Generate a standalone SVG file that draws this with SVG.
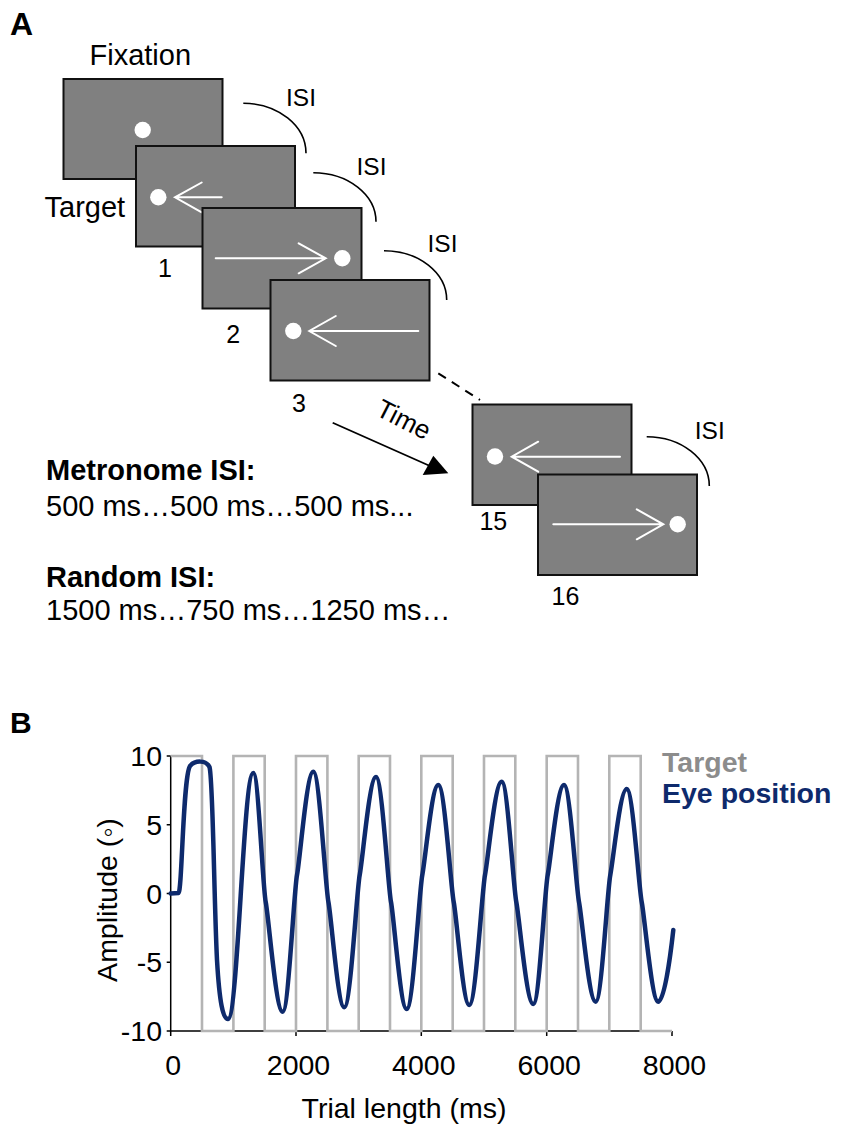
<svg xmlns="http://www.w3.org/2000/svg" width="851" height="1136" viewBox="0 0 851 1136">
<style>
.scr{fill:#808080;stroke:#111;stroke-width:2}
.dot{fill:#fff}
.arr{stroke:#fff;stroke-width:2;fill:none;stroke-linecap:round}
.isi{fill:none;stroke:#000;stroke-width:1.6}
text{font-family:"Liberation Sans",Arial,Helvetica,sans-serif;fill:#000}
.big{font-size:29px}
.num{font-size:25px;text-anchor:middle}
.isit{font-size:24.5px}
.bold{font-weight:bold}
.tick{font-size:28.5px}
</style>
<rect width="851" height="1136" fill="#fff"/>
<text x="10" y="35" class="bold" font-size="32">A</text>
<text x="10" y="733" class="bold" font-size="30">B</text>

<g id="screen1">
<rect class="scr" x="63.5" y="79" width="159" height="100"/>
<circle class="dot" cx="142.7" cy="130" r="8.2"/>
<text x="89.5" y="65" class="big">Fixation</text>
</g>
<g id="isi1">
<path class="isi" d="M243.3,103.3 A62.7,50 0 0 1 306,153.3"/>
<text x="286" y="106" class="isit">ISI</text>
</g>
<g id="screen2">
<rect class="scr" x="136" y="146" width="159" height="100.5"/>
<circle class="dot" cx="158.3" cy="197.3" r="8.2"/>
<path class="arr" d="M221.7,197.3 H175 M201.7,182.5 L175,197.3 L201.7,212.3"/>
<text x="44.5" y="216.7" class="big">Target</text>
<text x="165" y="277" class="num">1</text>
</g>
<g id="isi2">
<path class="isi" d="M313.3,172.7 A62.7,49 0 0 1 376,221.7"/>
<text x="356.5" y="175" class="isit">ISI</text>
</g>
<g id="screen3">
<rect class="scr" x="202.5" y="208" width="159" height="100.5"/>
<circle class="dot" cx="342.3" cy="258.3" r="8.2"/>
<path class="arr" d="M215.7,258.3 H325.7 M298.7,243.3 L325.7,258.3 L298.7,273.3"/>
<text x="233.3" y="343" class="num">2</text>
</g>
<g id="isi3">
<path class="isi" d="M384,250.7 A62.7,49.3 0 0 1 446.7,300"/>
<text x="427.5" y="251.7" class="isit">ISI</text>
</g>
<g id="screen4">
<rect class="scr" x="270.5" y="280" width="159" height="100.5"/>
<circle class="dot" cx="293.3" cy="331" r="8.2"/>
<path class="arr" d="M418.3,331 H309.3 M335.8,316 L309.3,331 L335.8,346"/>
<text x="299" y="411.7" class="num">3</text>
</g>

<g id="connectors">
<line x1="438.3" y1="373.3" x2="480" y2="400" stroke="#000" stroke-width="2" stroke-dasharray="9,7"/>
<line x1="332.7" y1="422.7" x2="430" y2="466" stroke="#000" stroke-width="1.8"/>
<polygon points="448.3,473.2 422.7,475 433.3,455.8" fill="#000"/>
<text transform="translate(374.5,414.5) rotate(27)" font-size="26">Time</text>
</g>

<g id="screen15">
<rect class="scr" x="472.5" y="404.5" width="159" height="100.5"/>
<circle class="dot" cx="495" cy="456.5" r="8.2"/>
<path class="arr" d="M620,456.7 H511.7 M538.2,441.7 L511.7,456.7 L538.2,471.7"/>
<text x="493.3" y="529.5" class="num">15</text>
</g>
<g id="isi4">
<path class="isi" d="M646.7,436.7 A62.7,49.3 0 0 1 709.3,486"/>
<text x="694.8" y="439" class="isit">ISI</text>
</g>
<g id="screen16">
<rect class="scr" x="538" y="474.5" width="159" height="100.5"/>
<circle class="dot" cx="677.7" cy="524.3" r="8.2"/>
<path class="arr" d="M553.3,524.3 H663.3 M636.8,509.3 L663.3,524.3 L636.8,539.3"/>
<text x="565.5" y="605" class="num">16</text>
</g>

<g id="legend-text">
<text x="46" y="480" class="big bold">Metronome ISI:</text>
<text x="46" y="516" class="big">500 ms…500 ms…500 ms...</text>
<text x="46" y="586.7" class="big bold">Random ISI:</text>
<text x="46" y="620" class="big">1500 ms…750 ms…1250 ms…</text>
</g>

<g id="plot">
<g stroke="#000" stroke-width="1.5" fill="none">
<path d="M170.7,756 V1031 H672"/>
<path d="M166.7,756 H170.7 M166.7,824.8 H170.7 M166.7,893.5 H170.7 M166.7,962.3 H170.7 M166.7,1031 H170.7"/>
<path d="M170.7,1031 V1036 M296,1031 V1036 M421.3,1031 V1036 M546.7,1031 V1036 M672,1031 V1036"/>
</g>
<g class="tick" text-anchor="end">
<text x="162" y="766">10</text>
<text x="162" y="834.8">5</text>
<text x="162" y="903.5">0</text>
<text x="162" y="972.3">-5</text>
<text x="162" y="1041">-10</text>
</g>
<g class="tick" text-anchor="middle">
<text x="173.2" y="1075">0</text>
<text x="298.5" y="1075">2000</text>
<text x="423.8" y="1075">4000</text>
<text x="549.2" y="1075">6000</text>
<text x="674.5" y="1075">8000</text>
</g>
<text x="404" y="1118" class="tick" text-anchor="middle">Trial length (ms)</text>
<text transform="translate(117,900) rotate(-90)" class="tick" text-anchor="middle">Amplitude (◦)</text>
<path fill="none" stroke="#b4b4b4" stroke-width="2.6" d="M170.7,756 H202 V1031 H233.4 V756 H264.7 V1031 H296 V756 H327.4 V1031 H358.7 V756 H390 V1031 H421.3 V756 H452.7 V1031 H484 V756 H515.3 V1031 H546.7 V756 H578 V1031 H609.3 V756 H640.7 V1031 H672"/>
<path fill="none" stroke="#0e2a6c" stroke-width="4.5" stroke-linejoin="round" stroke-linecap="round" d="M170.7,893.5 L178.5,893 C182,892.5 183,776 190,766 C195,760 206,760 209.5,767 C213,778 214,900 217,960 C219.5,1003 223,1019 228,1019 C238,1019 243.3,773 253.3,773 C258.3,773 262.7,887 265.7,902 C268.7,917 275.9,1011.7 282.7,1011.7 C288.4,1011.7 294,890 297,875 C300,860 306.8,771.7 313.3,771.7 C319.3,771.7 325.4,887 328.4,902 C331.4,917 337.9,1007.3 344.3,1007.3 C350.5,1007.3 356.7,890 359.7,875 C362.7,860 369.5,777 376,777 C382,777 388,887 391,902 C394,917 400.4,1009 406.7,1009 C412.9,1009 419.3,890 422.3,875 C425.3,860 431.9,785 438.3,785 C444.5,785 450.7,887 453.7,902 C456.7,917 463.1,1005 469.3,1005 C475.6,1005 482,890 485,875 C488,860 495,781.7 501.7,781.7 C507.5,781.7 513.3,887 516.3,902 C519.3,917 526.5,1004 533.3,1004 C539.1,1004 544.7,890 547.7,875 C550.7,860 557.5,785 564,785 C570,785 576,887 579,902 C582,917 589,1001.7 595.7,1001.7 C601.5,1001.7 607.3,890 610.3,875 C613.3,860 620.1,789 626.7,789 C632.7,789 638.7,887 641.7,902 C644.7,917 651.7,1001.7 658.3,1001.7 C664,1001.7 670,960 673.3,930"/>
<text x="662" y="771.5" font-size="28.5" class="bold" style="fill:#8c8c8c">Target</text>
<text x="662" y="803.3" font-size="28.5" class="bold" style="fill:#0e2a6c">Eye position</text>
</g>
</svg>
